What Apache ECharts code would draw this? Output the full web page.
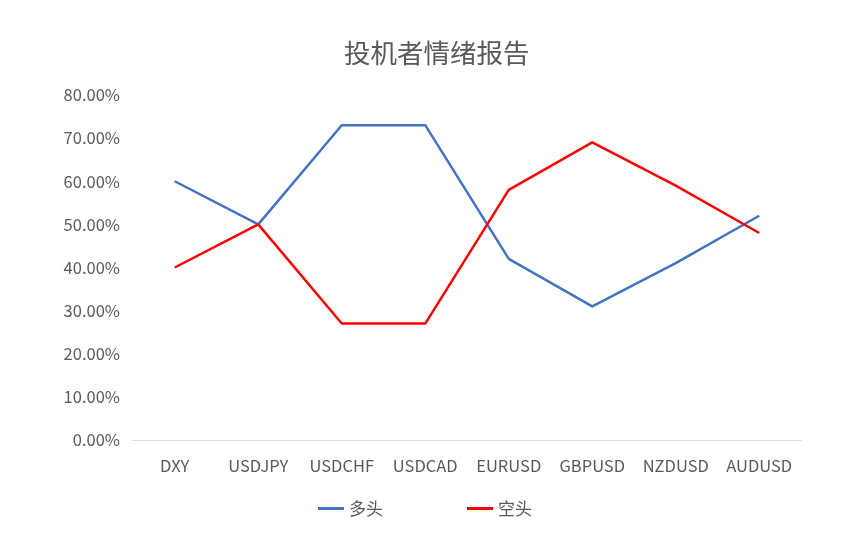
<!DOCTYPE html>
<html><head><meta charset="utf-8">
<script src="https://cdn.jsdelivr.net/npm/echarts@6/dist/echarts.min.js"></script>
<style>html,body{margin:0;padding:0;background:#fff}#c{width:852px;height:543px}</style>
</head><body><div id="c"></div>
<script>
const categories = ['DXY','USDJPY','USDCHF','USDCAD','EURUSD','GBPUSD','NZDUSD','AUDUSD'];
const longValues = [0.60,0.50,0.73,0.73,0.42,0.31,0.41,0.52];
const shortValues = [0.40,0.50,0.27,0.27,0.58,0.69,0.59,0.48];
const seriesNames = ['多头','空头'];
const chart = echarts.init(document.getElementById('c'));
const font = '"Noto Sans CJK SC", "Noto Sans", sans-serif';
chart.setOption({
  animation:false,
  backgroundColor:'#fff',
  title:{text:'投机者情绪报告',left:339,top:35,textStyle:{fontFamily:font,fontSize:26.5,fontWeight:'normal',color:'#595959'}},
  legend:{bottom:21,left:313,itemGap:84,itemWidth:26,itemHeight:3,icon:'rect',
    textStyle:{fontFamily:font,fontSize:17,color:'#595959'},data:seriesNames},
  grid:{left:133,right:51,top:95,bottom:103},
  xAxis:{type:'category',data:categories,boundaryGap:true,
    axisLine:{lineStyle:{color:'#d9d9d9'}},axisTick:{show:false},
    axisLabel:{interval:0,hideOverlap:false,fontFamily:font,fontSize:16.5,color:'#595959',margin:17}},
  yAxis:{type:'value',min:0,max:0.8,interval:0.1,
    axisLine:{show:false},axisTick:{show:false},splitLine:{show:false},
    axisLabel:{fontFamily:font,fontSize:16.5,color:'#595959',margin:13,formatter:v=>(v*100).toFixed(2)+'%'}},
  series:[
    {name:seriesNames[0],type:'line',data:longValues,symbol:'none',lineStyle:{width:2.5,color:'#4472c4'},itemStyle:{color:'#4472c4'}},
    {name:seriesNames[1],type:'line',data:shortValues,symbol:'none',lineStyle:{width:2.5,color:'#ff0000'},itemStyle:{color:'#ff0000'}}
  ]
});
</script></body></html>
